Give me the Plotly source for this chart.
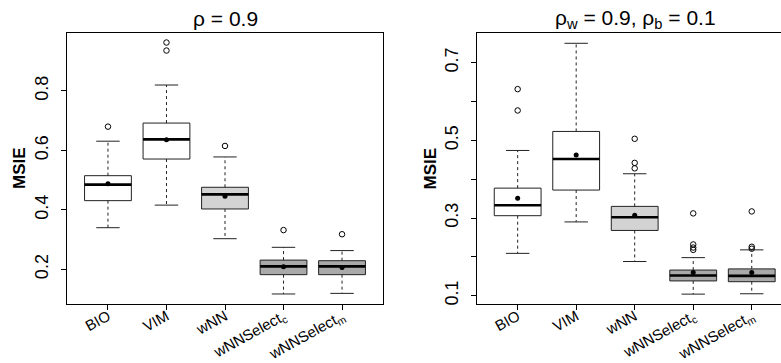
import plotly.graph_objects as go

# ---------------- data ----------------
categories = ["BIO", "VIM", "wNN", "wNNSelect<sub>c</sub>", "wNNSelect<sub>m</sub>"]
fills = ["#ffffff", "#ffffff", "#d3d3d3", "#a9a9a9", "#a9a9a9"]

# Panel 1: rho = 0.9
p1_lo = [0.340, 0.416, 0.303, 0.117, 0.119]
p1_q1 = [0.431, 0.571, 0.403, 0.182, 0.182]
p1_med = [0.485, 0.637, 0.452, 0.210, 0.210]
p1_q3 = [0.515, 0.692, 0.476, 0.231, 0.229]
p1_hi = [0.631, 0.820, 0.578, 0.274, 0.263]
p1_mean = [0.488, 0.636, 0.446, 0.209, 0.206]
p1_out = [[0.680], [0.963, 0.936], [0.615], [0.332], [0.318]]

# Panel 2: rho_w = 0.9, rho_b = 0.1
p2_lo = [0.209, 0.290, 0.188, 0.104, 0.105]
p2_q1 = [0.306, 0.372, 0.268, 0.138, 0.136]
p2_med = [0.333, 0.452, 0.302, 0.152, 0.151]
p2_q3 = [0.377, 0.523, 0.330, 0.166, 0.169]
p2_hi = [0.474, 0.750, 0.414, 0.198, 0.218]
p2_mean = [0.351, 0.462, 0.307, 0.160, 0.160]
p2_out = [[0.632, 0.577], [], [0.504, 0.442, 0.428],
          [0.312, 0.232, 0.224, 0.218], [0.317, 0.226, 0.221]]

p1_yticks = [0.2, 0.4, 0.6, 0.8]
p2_yticks = [0.1, 0.3, 0.5, 0.7]
p2_yminor = [0.2, 0.4, 0.6]

# ---------------- figure ----------------
W, H = 781, 363
fig = go.Figure()
BW = 0.4   # half box width
CW = 0.2   # half cap width
EDGE = "#222222"


def add_panel(lo, q1, med, q3, hi, mean, outs, xa, ya):
    for i in range(len(categories)):
        x = i + 1
        # box
        fig.add_trace(go.Scatter(
            x=[x - BW, x + BW, x + BW, x - BW, x - BW],
            y=[q1[i], q1[i], q3[i], q3[i], q1[i]],
            mode="lines", fill="toself", fillcolor=fills[i],
            line=dict(color=EDGE, width=1), xaxis=xa, yaxis=ya,
            showlegend=False, hoverinfo="skip"))
        # whiskers (dashed)
        fig.add_trace(go.Scatter(
            x=[x, x, None, x, x],
            y=[q3[i], hi[i], None, q1[i], lo[i]],
            mode="lines", line=dict(color=EDGE, width=1, dash="3px,3px"),
            xaxis=xa, yaxis=ya, showlegend=False, hoverinfo="skip"))
        # caps
        fig.add_trace(go.Scatter(
            x=[x - CW, x + CW, None, x - CW, x + CW],
            y=[hi[i], hi[i], None, lo[i], lo[i]],
            mode="lines", line=dict(color=EDGE, width=1),
            xaxis=xa, yaxis=ya, showlegend=False, hoverinfo="skip"))
        # median
        fig.add_trace(go.Scatter(
            x=[x - BW, x + BW], y=[med[i], med[i]],
            mode="lines", line=dict(color="black", width=2.6),
            xaxis=xa, yaxis=ya, showlegend=False, hoverinfo="skip"))
        # outliers
        if outs[i]:
            fig.add_trace(go.Scatter(
                x=[x] * len(outs[i]), y=outs[i], mode="markers",
                marker=dict(symbol="circle-open", size=5.5,
                            color="black", line=dict(width=1)),
                xaxis=xa, yaxis=ya, showlegend=False, hoverinfo="skip"))
    # means
    fig.add_trace(go.Scatter(
        x=list(range(1, len(categories) + 1)), y=mean, mode="markers",
        marker=dict(symbol="circle", size=5, color="black"),
        xaxis=xa, yaxis=ya, showlegend=False, hoverinfo="skip"))


add_panel(p1_lo, p1_q1, p1_med, p1_q3, p1_hi, p1_mean, p1_out, "x", "y")
add_panel(p2_lo, p2_q1, p2_med, p2_q3, p2_hi, p2_mean, p2_out, "x2", "y2")

FONT = "Liberation Sans, Arial, sans-serif"
ydom = [(H - 304) / H, (H - 33) / H]

xcommon = dict(
    tickmode="array", tickvals=list(range(1, 6)), ticktext=categories,
    tickangle=-29, ticks="outside", ticklen=5, tickcolor="black",
    showline=True, linecolor="black", linewidth=1, showgrid=False,
    zeroline=False, ticklabelstandoff=-8,
    tickfont=dict(family=FONT, size=15, color="black"),
    automargin=False, fixedrange=True)
ycommon = dict(
    tickmode="array", tickangle=-90, ticks="outside", ticklen=5,
    tickcolor="black", showline=True, linecolor="black", linewidth=1,
    showgrid=False, zeroline=False, ticklabelstandoff=6,
    tickfont=dict(family=FONT, size=18, color="black"),
    automargin=False, fixedrange=True)

fig.update_layout(
    width=W, height=H,
    margin=dict(l=0, r=0, t=0, b=0),
    paper_bgcolor="white", plot_bgcolor="white",
    xaxis=dict(domain=[67 / W, 383 / W], range=[0.3, 5.7], mirror=True,
               anchor="y", **xcommon),
    yaxis=dict(domain=ydom, range=[0.0833, 0.995], mirror=True, anchor="x",
               tickvals=p1_yticks, ticktext=[f"{v:.1f}" for v in p1_yticks],
               **ycommon),
    xaxis2=dict(domain=[476.7 / W, 1.0], range=[0.3, 5.5], mirror=True,
                anchor="y2", **xcommon),
    yaxis2=dict(domain=ydom, range=[0.0786, 0.7765], mirror=False,
                anchor="x2", tickvals=p2_yticks,
                ticktext=[f"{v:.1f}" for v in p2_yticks],
                minor=dict(tickmode="array", tickvals=p2_yminor,
                           ticks="outside", ticklen=5, tickcolor="black",
                           showgrid=False),
                **ycommon),
    annotations=[
        dict(text="ρ = 0.9", x=225 / W, y=1 - 19 / H, xref="paper",
             yref="paper", showarrow=False, xanchor="center", yanchor="middle",
             font=dict(family=FONT, size=21, color="black")),
        dict(text="ρ<sub>w</sub> = 0.9, ρ<sub>b</sub> = 0.1", x=635 / W,
             y=1 - 19 / H, xref="paper", yref="paper", showarrow=False,
             xanchor="center", yanchor="middle",
             font=dict(family=FONT, size=21, color="black")),
        dict(text="<b>MSIE</b>", x=19.5 / W, y=1 - 168.5 / H, xref="paper",
             yref="paper", showarrow=False, textangle=-90,
             xanchor="center", yanchor="middle",
             font=dict(family=FONT, size=17, color="black")),
        dict(text="<b>MSIE</b>", x=430 / W, y=1 - 168.5 / H, xref="paper",
             yref="paper", showarrow=False, textangle=-90,
             xanchor="center", yanchor="middle",
             font=dict(family=FONT, size=17, color="black")),
    ],
)

fig.write_html("out.html")
